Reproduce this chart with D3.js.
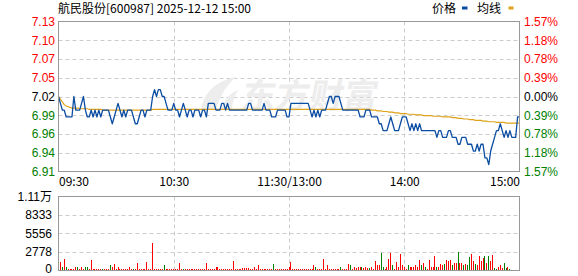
<!DOCTYPE html>
<html>
<head>
<meta charset="utf-8">
<script src="https://cdn.jsdelivr.net/npm/d3@7"></script>
<style>
  body { margin: 0; background: #fff; }
  svg { display: block; }
</style>
</head>
<body>
<svg width="578" height="276"></svg>
<script>
const title = "航民股份[600987] 2025-12-12 15:00";
const prevClose = 7.02;

// minute prices, 09:30 .. 11:30, 13:01 .. 15:00 (241 points)
const prices = [
  7.02, 7.01, 7.00, 7.00, 6.99, 6.99, 6.99, 6.99, 7.02, 7.00,
  7.00, 7.00, 7.01, 7.02, 7.00, 6.99, 6.99, 7.00, 6.99, 7.00,
  6.99, 7.00, 6.99, 7.00, 7.00, 7.00, 7.00, 6.99, 6.98, 6.99,
  7.00, 7.01, 7.00, 6.99, 7.00, 6.99, 7.00, 7.00, 7.00, 6.99,
  6.98, 6.98, 6.99, 7.00, 7.00, 6.99, 7.00, 7.00, 7.00, 7.02,
  7.03, 7.02, 7.03, 7.03, 7.02, 7.02, 7.01, 7.00, 7.00, 7.00,
  7.01, 7.00, 7.00, 6.99, 7.00, 7.01, 7.00, 6.99, 7.00, 7.00,
  6.99, 7.00, 7.00, 7.00, 6.99, 7.00, 7.00, 6.99, 7.01, 7.01,
  7.01, 7.01, 7.00, 7.00, 7.00, 7.01, 7.01, 7.00, 7.01, 7.00,
  7.00, 7.00, 7.00, 7.00, 7.00, 7.00, 7.00, 7.00, 7.00, 7.01,
  7.01, 7.00, 7.00, 7.00, 7.00, 7.00, 7.00, 7.01, 7.00, 7.00,
  7.00, 6.99, 6.99, 6.99, 7.00, 7.00, 7.00, 7.00, 7.00, 6.99,
  6.99, 7.01, 7.01, 7.01, 7.01, 7.01, 7.01, 7.01, 7.01, 7.01,
  7.01, 7.00, 6.99, 7.00, 6.99, 7.00, 6.99, 7.00, 7.00, 7.00,
  7.01, 7.02, 7.02, 7.01, 7.02, 7.02, 7.02, 7.01, 7.00, 7.00,
  7.00, 7.00, 7.00, 7.00, 7.00, 7.00, 7.00, 6.99, 6.99, 6.99,
  7.00, 7.00, 7.00, 6.99, 6.99, 6.99, 6.99, 6.98, 6.98, 6.97,
  6.97, 6.97, 6.98, 6.99, 6.98, 6.97, 6.97, 6.97, 6.98, 6.99,
  6.99, 6.99, 6.98, 6.97, 6.98, 6.97, 6.98, 6.97, 6.98, 6.97,
  6.97, 6.97, 6.97, 6.97, 6.97, 6.97, 6.97, 6.96, 6.97, 6.97,
  6.96, 6.96, 6.96, 6.97, 6.97, 6.96, 6.96, 6.96, 6.95, 6.95,
  6.96, 6.96, 6.96, 6.95, 6.95, 6.95, 6.94, 6.94, 6.95, 6.94,
  6.95, 6.95, 6.93, 6.93, 6.92, 6.94, 6.95, 6.96, 6.97, 6.97,
  6.98, 6.97, 6.96, 6.97, 6.96, 6.97, 6.96, 6.96, 6.96, 6.99,
  6.99
];

// average price line
const avgPrices = [
  7.020, 7.016, 7.012, 7.008, 7.006, 7.005, 7.004, 7.003, 7.003, 7.003,
  7.003, 7.002, 7.002, 7.002, 7.002, 7.002, 7.001, 7.001, 7.001, 7.001,
  7.001, 7.001, 7.001, 7.000, 7.000, 7.000, 7.000, 7.000, 7.000, 7.000,
  7.000, 7.000, 7.000, 7.000, 7.000, 7.000, 7.000, 7.000, 7.000, 7.000,
  7.000, 7.000, 7.000, 7.000, 7.000, 7.000, 7.000, 7.000, 7.000, 7.001,
  7.001, 7.001, 7.001, 7.001, 7.001, 7.001, 7.001, 7.001, 7.001, 7.001,
  7.001, 7.001, 7.001, 7.001, 7.001, 7.001, 7.001, 7.001, 7.001, 7.001,
  7.001, 7.001, 7.001, 7.001, 7.001, 7.001, 7.001, 7.001, 7.001, 7.001,
  7.001, 7.001, 7.001, 7.001, 7.001, 7.001, 7.001, 7.001, 7.001, 7.001,
  7.001, 7.001, 7.001, 7.001, 7.001, 7.001, 7.001, 7.001, 7.001, 7.001,
  7.001, 7.001, 7.001, 7.001, 7.001, 7.001, 7.001, 7.001, 7.001, 7.001,
  7.001, 7.001, 7.001, 7.001, 7.001, 7.001, 7.001, 7.001, 7.001, 7.001,
  7.001, 7.001, 7.001, 7.001, 7.001, 7.001, 7.001, 7.001, 7.001, 7.001,
  7.001, 7.001, 7.001, 7.001, 7.001, 7.001, 7.001, 7.001, 7.001, 7.001,
  7.001, 7.001, 7.001, 7.001, 7.001, 7.001, 7.001, 7.001, 7.001, 7.001,
  7.001, 7.001, 7.001, 7.001, 7.001, 7.001, 7.001, 7.001, 7.001, 7.001,
  7.001, 7.001, 7.001, 7.000, 7.000, 7.000, 6.999, 6.999, 6.999, 6.998,
  6.998, 6.998, 6.997, 6.997, 6.997, 6.996, 6.996, 6.996, 6.995, 6.995,
  6.995, 6.995, 6.994, 6.994, 6.994, 6.994, 6.993, 6.993, 6.993, 6.993,
  6.992, 6.992, 6.992, 6.992, 6.992, 6.991, 6.991, 6.991, 6.991, 6.991,
  6.990, 6.990, 6.990, 6.990, 6.990, 6.989, 6.989, 6.989, 6.988, 6.988,
  6.988, 6.987, 6.987, 6.987, 6.986, 6.986, 6.986, 6.985, 6.985, 6.985,
  6.985, 6.984, 6.984, 6.984, 6.983, 6.983, 6.983, 6.983, 6.982, 6.982,
  6.982, 6.982, 6.982, 6.981, 6.981, 6.981, 6.981, 6.981, 6.981, 6.981,
  6.981
];

// volume per minute (lots)
const volumes = [
  0, 1250, 500, 1700, 500, 200, 200, 200, 200, 500,
  500, 200, 500, 200, 600, 500, 200, 1600, 200, 200,
  200, 200, 200, 300, 200, 200, 200, 800, 500, 950,
  200, 600, 200, 200, 200, 200, 200, 500, 200, 300,
  200, 1100, 200, 200, 200, 200, 1250, 200, 200, 4150,
  200, 200, 200, 200, 200, 800, 200, 200, 200, 200,
  200, 200, 200, 1100, 200, 300, 200, 200, 200, 200,
  200, 200, 200, 200, 200, 200, 200, 1200, 200, 200,
  200, 200, 600, 600, 200, 200, 200, 200, 200, 200,
  200, 1400, 200, 200, 200, 200, 350, 350, 350, 350,
  200, 200, 500, 200, 800, 200, 200, 200, 200, 200,
  200, 200, 950, 200, 200, 200, 200, 200, 200, 200,
  600, 1250, 200, 200, 200, 200, 200, 200, 200, 200,
  200, 200, 200, 800, 600, 200, 200, 200, 1700, 200,
  800, 200, 200, 200, 200, 200, 200, 600, 200, 200,
  200, 950, 800, 200, 500, 350, 500, 500, 500, 350,
  500, 350, 350, 600, 200, 1400, 800, 800, 2600, 500,
  300, 600, 1700, 2600, 800, 300, 1250, 600, 2450, 800,
  600, 300, 800, 500, 500, 500, 800, 600, 1550, 800,
  1100, 500, 300, 1550, 500, 600, 2150, 600, 500, 950,
  800, 950, 1550, 1400, 1550, 800, 1100, 1100, 2750, 1100,
  1100, 800, 950, 800, 2000, 2450, 1400, 950, 800, 2150,
  1400, 1850, 2150, 1100, 2150, 1400, 2300, 350, 200, 500,
  800, 350, 1100, 350, 500, 200, 0, 0, 0, 0,
  10250
];

// r = up tick bar, g = down tick bar
const volSide = (
  "rrgrgrrrrr" + "grrrggrrrr" + "rrrgrrrgrr" + "rrrrrrrrrg" +
  "rrrrrrrrrr" + "rrrrrgrrrr" + "rrrrrgrrrr" + "rrrrrrrrrr" +
  "rrrrrrrrrr" + "rrrrrrrrrr" + "rrrrrrrrrr" + "rrgrrrrrrr" +
  "rrrrrrrrrr" + "rrrrgrrrrr" + "rrrrrrrgrr" + "rrgrrrrrgr" +
  "rrgrrrrrgg" + "rrrrgrrrrr" + "rrgrrrrrrg" + "rgrrrrrgrr" +
  "rgrrrgrrgr" + "rgrggrrgrr" + "rrgrgrrggr" + "rrggrgrrrr" + "r"
).split("");

const priceTicks = [7.13, 7.1025, 7.075, 7.0475, 7.02, 6.9925, 6.965, 6.9375, 6.91];
const priceLabels = ["7.13", "7.10", "7.07", "7.05", "7.02", "6.99", "6.96", "6.94", "6.91"];
const pctLabels = ["1.57%", "1.18%", "0.78%", "0.39%", "0.00%", "0.39%", "0.78%", "1.18%", "1.57%"];
const volTicks = [0, 2778, 5556, 8333, 11111];
const volLabels = ["0", "2778", "5556", "8333", "1.11万"];
const timeTicks = [0, 60, 120, 180, 240];
const timeLabels = ["09:30", "10:30", "11:30/13:00", "14:00", "15:00"];

const RED = "#ff0000";
const GREEN = "#008000";
const FONT = "'Liberation Sans', Arial, 'Noto Sans CJK SC', sans-serif";
const CJK = "'Noto Sans CJK SC', 'Liberation Sans', sans-serif";

const svg = d3.select("svg");
const left = 58.5;
const right = 519.5;
const main = { top: 21.5, bottom: 171.5 };
const vol = { top: 196.5, bottom: 270.5 };

const x = d3.scaleLinear().domain([0, 240]).range([left, right]);
const y = d3.scaleLinear().domain([6.91, 7.13]).range([main.bottom, main.top]);
const yv = d3.scaleLinear().domain([0, 11111]).range([vol.bottom, vol.top]);

function labelColor(i) {
  if (i < 4) return RED;
  if (i === 4) return "#000";
  return GREEN;
}

// header
svg.append("text")
  .attr("x", 58)
  .attr("y", 13)
  .attr("font-family", CJK)
  .attr("font-size", 12)
  .attr("fill", "#000")
  .text(title);

const legend = svg.append("g").attr("font-family", CJK).attr("font-size", 12);
legend.append("text").attr("x", 432).attr("y", 13).text("价格");
legend.append("rect").attr("x", 462).attr("y", 6.5).attr("width", 5.5).attr("height", 3).attr("fill", "#0b4da2");
legend.append("text").attr("x", 477).attr("y", 13).text("均线");
legend.append("rect").attr("x", 508.5).attr("y", 6.5).attr("width", 5).attr("height", 3).attr("fill", "#e0a21a");

// grids
const grid = svg.append("g")
  .attr("stroke", "#cccccc")
  .attr("stroke-dasharray", "4,3")
  .attr("stroke-width", 1);

grid.selectAll(".hmain")
  .data(priceTicks.slice(1, -1))
  .enter()
  .append("line")
  .attr("x1", left)
  .attr("x2", right)
  .attr("y1", (d) => Math.round(y(d)) + 0.5)
  .attr("y2", (d) => Math.round(y(d)) + 0.5);

grid.selectAll(".hvol")
  .data(volTicks.slice(1, -1))
  .enter()
  .append("line")
  .attr("x1", left)
  .attr("x2", right)
  .attr("y1", (d) => Math.round(yv(d)) + 0.5)
  .attr("y2", (d) => Math.round(yv(d)) + 0.5);

[main, vol].forEach((p) => {
  grid.selectAll(null)
    .data(timeTicks.slice(1, -1))
    .enter()
    .append("line")
    .attr("x1", (d) => Math.round(x(d)) + 0.5)
    .attr("x2", (d) => Math.round(x(d)) + 0.5)
    .attr("y1", p.top)
    .attr("y2", p.bottom);
});

// watermark
const wm = svg.append("g").attr("fill", "#ededed");
wm.append("path")
  .attr("d", "M201,110 C204,92 216,81 236,77 C226,86 219,97 216,110 Z M221,110 C224,100 230,93 238,90 C234,97 232,104 232,110 Z");
wm.append("text")
  .attr("x", 240)
  .attr("y", 108)
  .attr("font-family", CJK)
  .attr("font-size", 34)
  .attr("font-weight", "bold")
  .attr("transform", "skewX(-10) translate(19,0)")
  .text("东方财富");

// volume bars
svg.append("g")
  .attr("shape-rendering", "crispEdges")
  .selectAll("rect")
  .data(volumes)
  .enter()
  .append("rect")
  .attr("x", (d, i) => Math.round(x(i) - 0.5))
  .attr("width", 1)
  .attr("y", (d) => yv(d))
  .attr("height", (d) => vol.bottom - yv(d))
  .attr("fill", (d, i) => (volSide[i] === "g" ? GREEN : RED));

// lines
const line = d3.line()
  .x((d, i) => x(i))
  .y((d) => y(d));

svg.append("path")
  .datum(avgPrices)
  .attr("fill", "none")
  .attr("stroke", "#e0a21a")
  .attr("stroke-width", 1.2)
  .attr("d", line);

svg.append("path")
  .datum(prices)
  .attr("fill", "none")
  .attr("stroke", "#0b4da2")
  .attr("stroke-width", 1.3)
  .attr("stroke-linejoin", "round")
  .attr("d", line);

// frames
[main, vol].forEach((p) => {
  svg.append("rect")
    .attr("x", left)
    .attr("y", p.top)
    .attr("width", right - left)
    .attr("height", p.bottom - p.top)
    .attr("fill", "none")
    .attr("stroke", "#999999")
    .attr("stroke-width", 1);
});

// axes
const leftAxis = svg.append("g")
  .attr("transform", "translate(55,0)")
  .call(d3.axisLeft(y).tickValues(priceTicks).tickSize(0).tickPadding(0)
    .tickFormat((d, i) => priceLabels[i]));
leftAxis.select(".domain").remove();
leftAxis.selectAll("text")
  .attr("font-family", FONT)
  .attr("font-size", 12)
  .attr("fill", (d, i) => labelColor(i));

const rightAxis = svg.append("g")
  .attr("transform", "translate(524,0)")
  .call(d3.axisRight(y).tickValues(priceTicks).tickSize(0).tickPadding(0)
    .tickFormat((d, i) => pctLabels[i]));
rightAxis.select(".domain").remove();
rightAxis.selectAll("text")
  .attr("font-family", FONT)
  .attr("font-size", 12)
  .attr("fill", (d, i) => labelColor(i));

const volAxis = svg.append("g")
  .attr("transform", "translate(52,0)")
  .call(d3.axisLeft(yv).tickValues(volTicks).tickSize(0).tickPadding(0)
    .tickFormat((d, i) => volLabels[i]));
volAxis.select(".domain").remove();
volAxis.selectAll("text")
  .attr("font-family", FONT)
  .attr("font-size", 12)
  .attr("fill", "#000")
  .attr("dy", (d, i) => (i === 0 ? "0.15em" : "0.32em"));

const timeAxis = svg.append("g")
  .attr("transform", "translate(0,177)")
  .call(d3.axisBottom(x).tickValues(timeTicks).tickSize(0).tickPadding(0)
    .tickFormat((d, i) => timeLabels[i]));
timeAxis.select(".domain").remove();
timeAxis.selectAll("text")
  .attr("font-family", CJK)
  .attr("font-size", 12)
  .attr("fill", "#000")
  .attr("text-anchor", (d, i) => (i === 0 ? "start" : i === timeTicks.length - 1 ? "end" : "middle"));
</script>
</body>
</html>
